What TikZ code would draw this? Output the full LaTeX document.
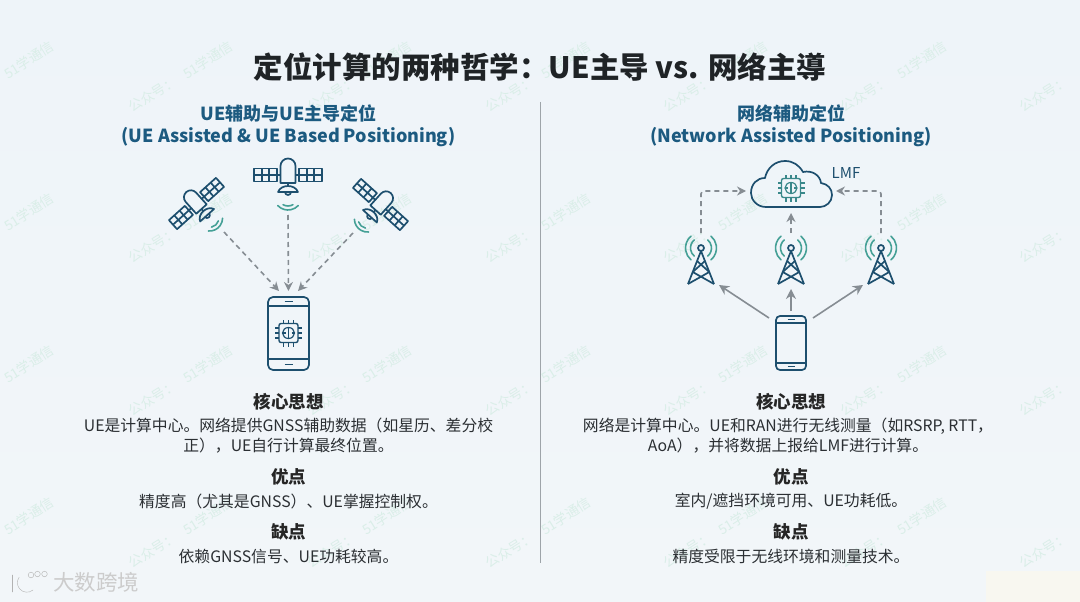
\documentclass[tikz,border=0pt]{standalone}
\usepackage{fontspec}
\setmainfont{Noto Sans CJK SC}
\usetikzlibrary{arrows.meta}
\definecolor{navy}{HTML}{1D4F6E}
\definecolor{subblue}{HTML}{1C5A80}
\definecolor{sigteal}{HTML}{45A096}
\definecolor{arrowgray}{HTML}{868D93}
\definecolor{inkgray}{HTML}{1F2326}
\definecolor{bodygray}{HTML}{2B2F33}
\definecolor{markteal}{HTML}{DAEEE8}
\definecolor{bgtop}{HTML}{EEF4F9}
\definecolor{bgbot}{HTML}{F2F6F9}
\definecolor{patch}{HTML}{F8F7F0}
\tikzset{
  icon/.style={draw=navy, line width=1.7pt, line join=round},
  sig/.style={draw=sigteal, line width=1.6pt, line cap=round},
  dasharrow/.style={draw=arrowgray, line width=1.6pt, dash pattern=on 5pt off 4pt, -{Stealth[length=9pt,width=9pt]}},
  solidarrow/.style={draw=arrowgray, line width=1.6pt, -{Stealth[length=10pt,width=10pt]}},
  anchorbox/.style={inner sep=0pt, outer sep=0pt},
  wmark/.style={text=markteal, rotate=32, font=\fontsize{13.5}{16}\selectfont, inner sep=0pt},
  titletext/.style={text=inkgray, font=\fontsize{29.5}{36}\selectfont\bfseries, inner sep=0pt},
  subtext/.style={text=subblue, align=center, inner sep=0pt, font=\fontsize{18}{22}\selectfont\bfseries},
  headtext/.style={text=black!85, inner sep=0pt, font=\fontsize{17.5}{20}\selectfont\bfseries},
  bodytext/.style={text=bodygray, align=center, inner sep=0pt, font=\fontsize{15.8}{20}\selectfont},
  pics/satellite/.style={code={
    \draw[icon] (-7.5,8) -- (-7.5,-9) arc[start angle=180, end angle=0, radius=7.5pt] -- (7.5,8) -- cycle;
    \draw[icon] (-7.5,0) -- (-11,0) (7.5,0) -- (11,0);
    \foreach \side in {-1,1} {
      \draw[icon] (\side*11,-6.5) rectangle (\side*34,6.5);
      \draw[icon] (\side*11,0) -- (\side*34,0);
      \draw[icon] (\side*18.7,-6.5) -- (\side*18.7,6.5);
      \draw[icon] (\side*26.3,-6.5) -- (\side*26.3,6.5);
    }
    \draw[icon] (0,8) -- (0,11);
    \draw[icon] (-10,17) .. controls (-7,9) and (7,9) .. (10,17) -- cycle;
    \draw[icon] (-3,17) arc[start angle=180, end angle=360, radius=3pt];
    \draw[sig] (0,21) ++(240:10pt) arc[start angle=240, end angle=300, radius=10pt];
    \draw[sig] (0,21) ++(223:14pt) arc[start angle=223, end angle=317, radius=14pt];
  }},
  pics/chip/.style={code={
    \draw[#1, line width=1.4pt, rounded corners=2pt] (-9.5,-9.5) rectangle (9.5,9.5);
    \foreach \o in {-5,0,5} {
      \draw[#1, line width=1.3pt] (\o,-9.5) -- (\o,-13.5) (\o,9.5) -- (\o,13.5);
      \draw[#1, line width=1.3pt] (-9.5,\o) -- (-13.5,\o) (9.5,\o) -- (13.5,\o);
    }
    \draw[#1, line width=1.2pt] (0,0) ellipse[x radius=6pt, y radius=5.5pt];
    \draw[#1, line width=1.2pt] (0,-5.5) -- (0,5.5) (-6,0) -- (-3,0) (3,0) -- (6,0);
  }},
  pics/tower/.style={code={
    \draw[icon] (0,-8) -- (-13,25) (0,-8) -- (13,25);
    \draw[icon] (-4,2) -- (8.3,13) -- (-13,25) (4,2) -- (-8.3,13) -- (13,25);
    \draw[icon] (0,-11) circle[radius=3pt];
    \draw[sig] (0,-11) ++(130:10.5pt) arc[start angle=130, end angle=230, radius=10.5pt];
    \draw[sig] (0,-11) ++(130:15.5pt) arc[start angle=130, end angle=230, radius=15.5pt];
    \draw[sig] (0,-11) ++(-50:10.5pt) arc[start angle=-50, end angle=50, radius=10.5pt];
    \draw[sig] (0,-11) ++(-50:15.5pt) arc[start angle=-50, end angle=50, radius=15.5pt];
  }},
}
\begin{document}
\begin{tikzpicture}[x=1pt, y=-1pt]
  \useasboundingbox (0,0) rectangle (1080,602);
  % background
  \fill[top color=bgtop, bottom color=bgbot] (0,0) rectangle (1080,602);
  \fill[patch] (986,571) rectangle (1080,602);

  % watermarks
  \foreach \wy [count=\r] in {60,212,364,516} {
    \foreach \wx [count=\c] in {29,208,387,566,743,922} {
      \node[wmark] (wa\r\c) at (\wx,\wy) {51学通信};
    }
  }
  \foreach \wy [count=\r] in {94,245,398,550} {
    \foreach \wx [count=\c] in {153,332,510,688,865,1044} {
      \node[wmark] (wb\r\c) at (\wx,\wy) {公众号：};
    }
  }

  % title and divider
  \node[titletext] (title) at (540,67) {定位计算的两种哲学：UE主导 vs. 网络主導};
  \draw[color=arrowgray!80, line width=1pt] (540,102) coordinate (divtop) -- (540,563) coordinate (divbot);

  % UE side
  \node[subtext] (subA) at (288.5,126) {UE辅助与UE主导定位\\(UE Assisted \& UE Based Positioning)};
  \pic at (288,175) {satellite};
  \pic[rotate=42, scale=.93] at (196.5,203.5) {satellite};
  \pic[rotate=-42, scale=.93] at (380.5,204.5) {satellite};
  \coordinate (satAout) at (224,232);
  \coordinate (satBout) at (288,215);
  \coordinate (satCout) at (353,233);
  \node[icon, anchorbox, rounded corners=5pt, minimum width=41pt, minimum height=73pt] (phoneA) at (288.5,333.5) {};
  \draw[icon] (268,306) -- (309,306) (268,359) -- (309,359);
  \draw[icon] (284.5,301.5) -- (292.5,301.5) (284.5,364.5) -- (292.5,364.5);
  \pic at (288.5,333) {chip={navy}};
  \draw[dasharrow] (satAout) -- ([xshift=-9.5pt,yshift=6pt]phoneA.north);
  \draw[dasharrow] (satBout) -- ([yshift=6pt]phoneA.north);
  \draw[dasharrow] (satCout) -- ([xshift=9.5pt,yshift=6pt]phoneA.north);

  \node[headtext] (headA) at (288.5,402) {核心思想};
  \node[bodytext] (bodyA) at (288.5,436) {UE是计算中心。网络提供GNSS辅助数据（如星历、差分校\\正），UE自行计算最终位置。};
  \node[headtext] (prosA) at (288.5,477) {优点};
  \node[bodytext] (prosAtxt) at (288.5,501) {精度高（尤其是GNSS）、UE掌握控制权。};
  \node[headtext] (consA) at (288.5,532) {缺点};
  \node[bodytext] (consAtxt) at (288.5,556) {依赖GNSS信号、UE功耗较高。};

  % network side
  \node[subtext] (subB) at (791,126) {网络辅助定位\\(Network Assisted Positioning)};
  \draw[icon] (766,207) .. controls (757,207) and (751,200) .. (751,193)
    .. controls (751,184) and (757,178) .. (765,178)
    .. controls (767,168) and (775,161) .. (785,161)
    .. controls (793,161) and (799,165) .. (803,172)
    .. controls (812,170) and (820,175) .. (821,183)
    .. controls (828,184) and (832,189) .. (832,195)
    .. controls (832,202) and (826,207) .. (820,207) -- cycle;
  \node[anchorbox, minimum width=90pt, minimum height=44pt] (cloud) at (791,191) {};
  \pic at (791,188) {chip={sigteal!70!navy}};
  \node[text=navy, inner sep=0pt, font=\fontsize{15}{18}\selectfont] (lmf) at (846,173) {LMF};
  \node[anchorbox, minimum width=36pt, minimum height=52pt] (towerA) at (701,259) {};
  \node[anchorbox, minimum width=36pt, minimum height=52pt] (towerB) at (791,259) {};
  \node[anchorbox, minimum width=36pt, minimum height=52pt] (towerC) at (881,259) {};
  \pic at (701,259) {tower};
  \pic at (791,259) {tower};
  \pic at (881,259) {tower};
  \node[icon, anchorbox, rounded corners=4pt, minimum width=30pt, minimum height=54pt] (phoneB) at (791,343) {};
  \draw[icon] (776,323) -- (806,323) (776,363) -- (806,363);
  \draw[icon] (787.5,319.5) -- (794.5,319.5) (787.5,366.5) -- (794.5,366.5);
  \draw[dasharrow, rounded corners=3pt] (towerA.north) |- (cloud.west);
  \draw[dasharrow, rounded corners=3pt] (towerC.north) |- (cloud.east);
  \draw[dasharrow] (towerB.north) -- (cloud.south);
  \draw[solidarrow] ([xshift=-7pt,yshift=-2pt]phoneB.north west) -- (towerA.south east);
  \draw[solidarrow] ([yshift=5pt]phoneB.north) -- ([yshift=-4pt]towerB.south);
  \draw[solidarrow] ([xshift=7pt,yshift=-2pt]phoneB.north east) -- (towerC.south west);

  \node[headtext] (headB) at (791,402) {核心思想};
  \node[bodytext] (bodyB) at (788,436) {网络是计算中心。UE和RAN进行无线测量（如RSRP, RTT，\\AoA），并将数据上报给LMF进行计算。};
  \node[headtext] (prosB) at (791,477) {优点};
  \node[bodytext] (prosBtxt) at (791,501) {室内/遮挡环境可用、UE功耗低。};
  \node[headtext] (consB) at (791,532) {缺点};
  \node[bodytext] (consBtxt) at (791,556) {精度受限于无线环境和测量技术。};

  % footer logo
  \begin{scope}[draw=black!30, double=white, double distance=2.6pt, line cap=round]
    \draw (12.5,575) -- (12.5,592);
    \draw (33,590) arc[start angle=-50, end angle=-215, radius=9.5pt];
    \draw (31,575) circle[radius=2.8pt];
    \draw (37.5,574) circle[radius=2.8pt];
    \draw (44.5,574) circle[radius=2.8pt];
  \end{scope}
  \node[text=black!20, inner sep=0pt, font=\fontsize{21.5}{24}\selectfont] (brand) at (96,582) {大数跨境};
\end{tikzpicture}
\end{document}
